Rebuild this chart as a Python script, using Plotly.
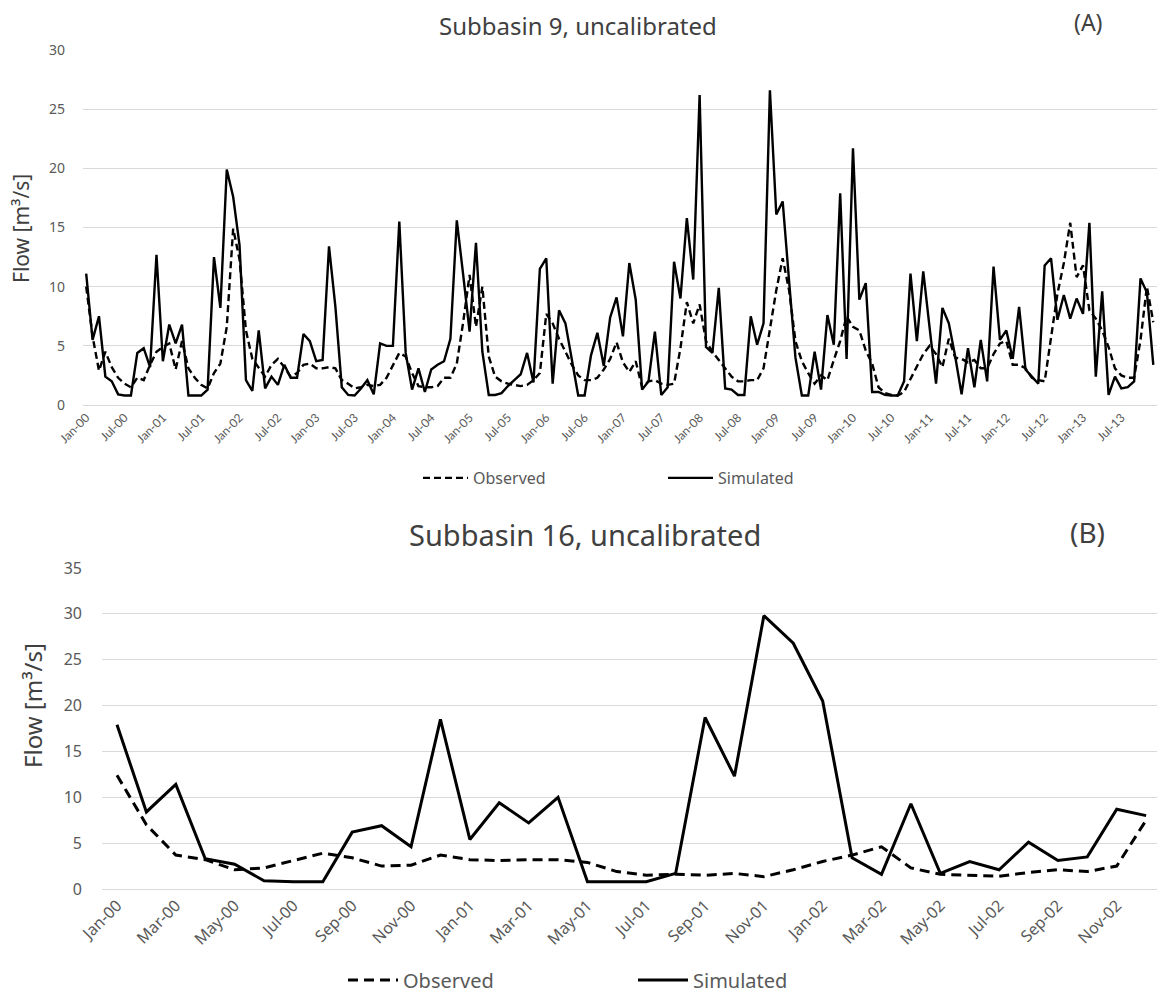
import plotly.graph_objects as go

# ---- Subbasin 9: monthly flow, Jan-2000 .. Dec-2013 (m3/s) ----
obs_sb9 = [
    10.0, 5.8, 2.9, 4.5, 3.2, 2.3, 1.8, 1.5, 2.3, 2.1, 3.4, 4.5,
    4.9, 5.2, 3.0, 5.4, 3.1, 2.3, 1.7, 1.4, 2.7, 3.5, 6.6, 14.9,
    12.3, 6.3, 3.9, 3.1, 2.4, 3.4, 3.9, 3.2, 2.4, 2.7, 3.4, 3.5,
    3.1, 3.1, 3.2, 3.1, 2.1, 1.8, 1.4, 1.5, 1.7, 1.6, 1.7, 2.3,
    3.4, 4.4, 4.1, 2.7, 1.6, 1.5, 1.5, 1.6, 2.3, 2.3, 3.5, 7.0,
    11.0, 6.6, 10.0, 4.1, 2.4, 2.0, 1.8, 1.7, 1.6, 1.7, 2.1, 2.7,
    7.7, 6.9, 5.6, 4.5, 3.4, 2.5, 2.1, 2.1, 2.3, 3.0, 3.9, 5.3,
    3.6, 2.8, 3.7, 1.5, 2.0, 2.1, 1.8, 1.7, 1.8, 4.8, 8.7, 6.9,
    8.5, 5.4, 4.5, 3.8, 3.1, 2.4, 2.0, 2.0, 2.1, 2.1, 3.1, 6.3,
    9.7, 12.4, 9.7, 5.4, 3.7, 2.7, 1.8, 2.5, 2.1, 3.8, 5.4, 7.5,
    6.6, 6.3, 4.6, 3.5, 1.5, 1.0, 0.85, 0.8, 1.1, 2.2, 3.2, 4.3,
    5.0, 4.3, 3.2, 5.6, 4.0, 3.9, 3.6, 3.8, 3.1, 3.1, 4.3, 5.2,
    5.4, 3.4, 3.4, 3.1, 2.3, 2.1, 2.0, 5.5, 9.4, 12.0, 15.4, 10.8,
    11.8, 8.0, 7.3, 6.3, 4.9, 3.1, 2.5, 2.3, 2.3, 5.5, 10.0, 7.0,
]
sim_sb9 = [
    11.1, 5.5, 7.5, 2.4, 2.0, 0.9, 0.8, 0.8, 4.4, 4.8, 3.2, 12.7,
    3.7, 6.8, 5.2, 6.8, 0.8, 0.8, 0.8, 1.3, 12.5, 8.2, 19.9, 17.6,
    13.5, 2.1, 1.2, 6.3, 1.4, 2.4, 1.7, 3.4, 2.3, 2.3, 6.0, 5.4,
    3.7, 3.8, 13.4, 8.3, 1.5, 0.85, 0.8, 1.4, 2.1, 0.9, 5.2, 5.0,
    5.0, 15.5, 4.4, 1.3, 3.1, 1.1, 3.0, 3.4, 3.7, 5.6, 15.6, 11.0,
    6.2, 13.7, 4.5, 0.85, 0.85, 1.0, 1.6, 2.1, 2.6, 4.4, 1.9, 11.5,
    12.4, 1.8, 8.0, 6.9, 3.8, 0.8, 0.8, 4.2, 6.1, 3.3, 7.4, 9.1,
    5.8, 12.0, 8.9, 1.3, 2.0, 6.2, 0.85, 1.5, 12.1, 9.0, 15.8, 10.6,
    26.2, 4.9, 4.4, 9.9, 1.4, 1.3, 0.85, 0.85, 7.5, 5.1, 6.9, 26.6,
    16.1, 17.2, 10.5, 4.0, 0.8, 0.8, 4.5, 1.3, 7.6, 5.1, 17.9, 3.9,
    21.7, 8.9, 10.3, 1.1, 1.1, 0.85, 0.8, 0.8, 2.0, 11.1, 5.4, 11.3,
    6.5, 1.8, 8.2, 6.9, 4.1, 0.9, 4.8, 1.5, 5.5, 2.0, 11.7, 5.5,
    6.3, 3.9, 8.3, 3.0, 2.4, 1.8, 11.8, 12.4, 7.2, 9.3, 7.3, 9.0,
    7.7, 15.4, 2.4, 9.6, 0.85, 2.4, 1.4, 1.5, 2.0, 10.7, 9.5, 3.4,
]

# ---- Subbasin 16: monthly flow, Jan-2000 .. Dec-2002 (m3/s) ----
obs_sb16 = [
    12.4, 7.0, 3.7, 3.2, 2.1, 2.3, 3.1, 3.9, 3.4, 2.5, 2.6, 3.7,
    3.2, 3.1, 3.2, 3.2, 2.9, 1.9, 1.5, 1.6, 1.5, 1.7, 1.35, 2.1,
    3.0, 3.7, 4.6, 2.3, 1.6, 1.5, 1.4, 1.8, 2.1, 1.9, 2.5, 7.5,
]
sim_sb16 = [
    17.9, 8.4, 11.4, 3.3, 2.7, 0.9, 0.8, 0.8, 6.2, 6.9, 4.6, 18.5,
    5.4, 9.4, 7.2, 10.0, 0.8, 0.8, 0.8, 1.7, 18.7, 12.3, 29.8, 26.8,
    20.5, 3.4, 1.6, 9.3, 1.7, 3.0, 2.1, 5.1, 3.1, 3.5, 8.7, 8.0,
]

months = ["Jan", "Feb", "Mar", "Apr", "May", "Jun",
          "Jul", "Aug", "Sep", "Oct", "Nov", "Dec"]


def month_labels(n):
    return [f"{months[k % 12]}-{k // 12:02d}" for k in range(n)]


labels_sb9 = month_labels(len(sim_sb9))
labels_sb16 = month_labels(len(sim_sb16))
tick_step_sb9 = 6
tick_step_sb16 = 2

W, H = 1157, 993
FONT = "Noto Sans"
NARROW = "Lato"
GRID = "#d9d9d9"
TXT = "#595959"
TITLE = "#404040"


def px_x(v):
    return v / W


def px_y(v):
    return 1 - v / H


fig = go.Figure()

idx9 = list(range(len(sim_sb9)))
idx16 = list(range(len(sim_sb16)))

fig.add_trace(go.Scatter(
    x=idx9, y=obs_sb9, mode="lines", name="Observed",
    line=dict(color="black", width=2.4, dash="7px,4px"),
    xaxis="x", yaxis="y", legend="legend"))
fig.add_trace(go.Scatter(
    x=idx9, y=sim_sb9, mode="lines", name="Simulated",
    line=dict(color="black", width=2.4),
    xaxis="x", yaxis="y", legend="legend"))
fig.add_trace(go.Scatter(
    x=idx16, y=obs_sb16, mode="lines", name="Observed",
    line=dict(color="black", width=3, dash="10px,6px"),
    xaxis="x2", yaxis="y2", legend="legend2"))
fig.add_trace(go.Scatter(
    x=idx16, y=sim_sb16, mode="lines", name="Simulated",
    line=dict(color="black", width=3),
    xaxis="x2", yaxis="y2", legend="legend2"))

fig.update_layout(
    width=W, height=H,
    margin=dict(l=0, r=0, t=0, b=0, autoexpand=False),
    paper_bgcolor="white", plot_bgcolor="white",
    font=dict(family=FONT, color=TXT),
    xaxis=dict(
        domain=[px_x(83), 1.0], anchor="y", automargin=False,
        range=[-0.5, 167.58],
        tickvals=idx9[::tick_step_sb9], ticktext=labels_sb9[::tick_step_sb9],
        tickangle=-45, tickfont=dict(family=NARROW, size=12, color=TXT),
        showgrid=False, zeroline=False,
        showline=True, linecolor=GRID, linewidth=1, ticks=""),
    yaxis=dict(
        domain=[px_y(405), px_y(50)], anchor="x", automargin=False,
        range=[0, 30], dtick=5,
        tickfont=dict(size=14, color=TXT),
        showgrid=True, gridcolor=GRID, gridwidth=1,
        zeroline=False, showline=False, ticks="", ticklabelstandoff=17),
    xaxis2=dict(
        domain=[px_x(102), 1.0], anchor="y2", automargin=False,
        range=[-0.51, 35.37],
        tickvals=idx16[::tick_step_sb16], ticktext=labels_sb16[::tick_step_sb16],
        tickangle=-45, tickfont=dict(size=16, color=TXT),
        showgrid=False, zeroline=False,
        showline=True, linecolor=GRID, linewidth=1, ticks=""),
    yaxis2=dict(
        domain=[px_y(889), px_y(568)], anchor="x2", automargin=False,
        range=[0, 35], dtick=5,
        tickfont=dict(size=16, color=TXT),
        showgrid=True, gridcolor=GRID, gridwidth=1,
        zeroline=False, showline=False, ticks="", ticklabelstandoff=19),
    legend=dict(
        orientation="h", x=px_x(418), y=px_y(478), xanchor="left", yanchor="middle",
        entrywidth=185, entrywidthmode="pixels", itemwidth=45,
        font=dict(size=16, color=TXT), bgcolor="rgba(0,0,0,0)"),
    legend2=dict(
        orientation="h", x=px_x(343), y=px_y(980), xanchor="left", yanchor="middle",
        entrywidth=225, entrywidthmode="pixels", itemwidth=50,
        font=dict(size=20, color=TXT), bgcolor="rgba(0,0,0,0)"),
    showlegend=True,
)

annotations = [
    dict(text="Subbasin 9, uncalibrated", x=px_x(578), y=px_y(25),
         font=dict(size=24, color=TITLE)),
    dict(text="(A)", x=px_x(1088), y=px_y(22),
         font=dict(size=23, color=TITLE)),
    dict(text="Subbasin 16, uncalibrated", x=px_x(585), y=px_y(534),
         font=dict(size=29, color=TITLE)),
    dict(text="(B)", x=px_x(1087), y=px_y(532),
         font=dict(size=28, color=TITLE)),
    dict(text="Flow [m³/s]", x=px_x(21), y=px_y(229), textangle=-90,
         font=dict(size=21, color=TITLE)),
    dict(text="Flow [m³/s]", x=px_x(32), y=px_y(706), textangle=-90,
         font=dict(size=24, color=TITLE)),
]
for a in annotations:
    a.update(xref="paper", yref="paper", showarrow=False,
             xanchor="center", yanchor="middle")
fig.update_layout(annotations=annotations)

fig.write_html("out.html")
